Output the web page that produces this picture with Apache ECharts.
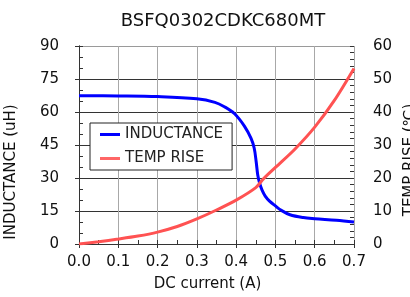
<!DOCTYPE html>
<html>
<head>
<meta charset="utf-8">
<script src="https://cdn.jsdelivr.net/npm/echarts@6/dist/echarts.min.js"></script>
<style>
html,body{margin:0;padding:0;background:#fff;}
#c{width:410px;height:297px;}
</style>
</head>
<body>
<div id="c"></div>
<script>
// ---- data ----
const titleText = 'BSFQ0302CDKC680MT';
const xName = 'DC current (A)';
const yLeftName = 'INDUCTANCE (uH)';
const yRightName = 'TEMP RISE (\u2103)';
const seriesNames = ['INDUCTANCE', 'TEMP RISE'];

const indCurrent = [0, 0.1, 0.2, 0.3, 0.346, 0.37, 0.396, 0.421, 0.438, 0.446, 0.451, 0.455, 0.46, 0.466, 0.474, 0.485, 0.5, 0.515, 0.537, 0.571, 0.6, 0.655, 0.7];
const indValue   = [67.4, 67.3, 67, 66, 64.4, 62.4, 59.2, 53.6, 48, 43.5, 37.4, 31.4, 27.5, 24.5, 21.8, 19.5, 17.3, 15.3, 13.3, 12, 11.5, 10.8, 10];

const tempCurrent = [0, 0.05, 0.1, 0.15, 0.2, 0.25, 0.3, 0.35, 0.4, 0.45, 0.47, 0.5, 0.55, 0.6, 0.65, 0.7];
const tempValue   = [0, 0.7, 1.5, 2.4, 3.6, 5.3, 7.6, 10.3, 13.3, 17.1, 19.8, 23.2, 28.8, 35.4, 43.5, 53.2];

// ---- chart ----
const pairs = (xs, ys) => xs.map((x, i) => [x, ys[i]]);
const font = 'DejaVu Sans, sans-serif';
const tickCol = '#333';
const chart = echarts.init(document.getElementById('c'), null, {renderer: 'canvas'});
const minorAxis = (extra) => Object.assign({
  type: 'value',
  axisLine: {show: false},
  axisTick: {show: true, inside: true, length: 4, lineStyle: {color: tickCol}},
  axisLabel: {show: false},
  splitLine: {show: false}
}, extra);
chart.setOption({
  animation: false,
  backgroundColor: '#fff',
  title: {
    text: titleText, left: 218, top: 7, textAlign: 'center',
    textStyle: {fontFamily: font, fontSize: 18, fontWeight: 'normal', color: '#111'}
  },
  grid: {left: 79, right: 56, top: 46, bottom: 53, containLabel: false, outerBoundsMode: 'none'},
  legend: {
    orient: 'vertical', left: 90, top: 123,
    data: seriesNames,
    itemWidth: 20, itemHeight: 3, itemGap: 9,
    icon: 'rect',
    padding: [4, 9, 4, 10],
    borderColor: '#222', borderWidth: 1, backgroundColor: '#fff',
    textStyle: {fontFamily: font, fontSize: 15, color: '#222'}
  },
  xAxis: [{
    type: 'value', min: 0, max: 0.7, interval: 0.1,
    name: xName, nameLocation: 'middle', nameGap: 33,
    nameTextStyle: {fontFamily: font, fontSize: 15, color: '#111', padding: [0, 18, 0, 0]},
    axisLine: {lineStyle: {color: '#333', width: 1}},
    axisTick: {show: true, inside: false, length: 4, lineStyle: {color: tickCol}},
    axisLabel: {fontFamily: font, fontSize: 15, color: '#111', margin: 11, formatter: v => v.toFixed(1)},
    splitLine: {show: true, lineStyle: {color: '#a8a8a8', width: 1}}
  }, minorAxis({min: 0, max: 0.7, interval: 0.05, position: 'bottom'})],
  yAxis: [{
    type: 'value', min: 0, max: 90, interval: 15, position: 'left',
    name: yLeftName, nameLocation: 'middle', nameGap: 60, nameRotate: 90,
    nameTextStyle: {fontFamily: font, fontSize: 15, color: '#111', padding: [0, 54, 0, 0]},
    axisLine: {show: true, lineStyle: {color: '#333', width: 1}},
    axisTick: {show: true, inside: false, length: 4, lineStyle: {color: tickCol}},
    axisLabel: {fontFamily: font, fontSize: 15, color: '#111', margin: 20},
    splitLine: {show: true, lineStyle: {color: ['#333', '#333', '#333', '#333', '#333', '#333', '#9a9a9a'], width: 1}}
  }, {
    type: 'value', min: 0, max: 60, interval: 10, position: 'right',
    name: yRightName, nameLocation: 'middle', nameGap: 40, nameRotate: 90,
    nameTextStyle: {fontFamily: font, fontSize: 15, color: '#111', padding: [0, 30, 0, 0]},
    axisLine: {show: true, lineStyle: {color: '#333', width: 1}},
    axisTick: {show: true, inside: false, length: 4, lineStyle: {color: tickCol}},
    axisLabel: {fontFamily: font, fontSize: 15, color: '#111', margin: 19},
    splitLine: {show: false}
  },
  minorAxis({min: 0, max: 90, interval: 5, position: 'left'}),
  minorAxis({min: 0, max: 60, interval: 2, position: 'right'})
  ],
  series: [{
    name: seriesNames[0], type: 'line', xAxisIndex: 0, yAxisIndex: 0,
    data: pairs(indCurrent, indValue),
    smooth: 0.35, showSymbol: false, symbol: 'none',
    lineStyle: {color: '#0000ff', width: 3}, itemStyle: {color: '#0000ff'}
  }, {
    name: seriesNames[1], type: 'line', xAxisIndex: 0, yAxisIndex: 1,
    data: pairs(tempCurrent, tempValue),
    smooth: 0.3, showSymbol: false, symbol: 'none',
    lineStyle: {color: '#ff5252', width: 3}, itemStyle: {color: '#ff6666'}
  }]
});
</script>
</body>
</html>
